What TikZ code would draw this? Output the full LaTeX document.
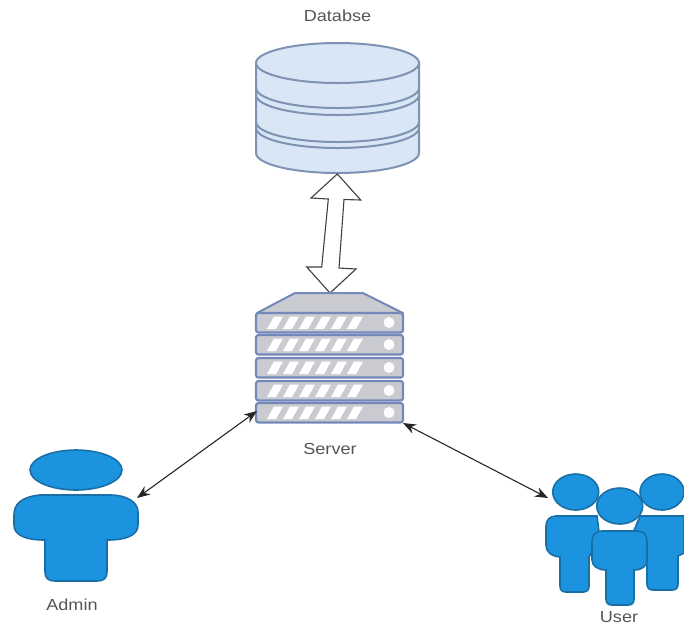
\documentclass[tikz,border=0pt]{standalone}
\usepackage{fontspec}
\setmainfont{Liberation Sans}
\usetikzlibrary{arrows.meta}
\definecolor{dbfill}{HTML}{D8E6F6}
\definecolor{dbline}{HTML}{7E93B2}
\definecolor{srvfill}{HTML}{C9CBD0}
\definecolor{srvline}{HTML}{7488BA}
\definecolor{pfill}{HTML}{1C93DE}
\definecolor{pline}{HTML}{1A6FA6}
\definecolor{txt}{HTML}{555555}
\tikzset{
  dbpart/.style={fill=dbfill,draw=dbline,line width=2pt},
  srvrow/.style={fill=srvfill,draw=srvline,line width=2.2pt,rounded corners=2.5pt},
  person/.style={fill=pfill,draw=pline,line width=1.6pt},
  label/.style={text=txt,font=\fontsize{16}{18}\selectfont,inner sep=0pt,xscale=1.13,transform shape},
  link/.style={black!85,line width=1.1pt,{Stealth[length=13pt,width=10pt]}-{Stealth[length=13pt,width=10pt]}},
  bigarrow/.style={fill=white,draw=black!75,line width=1.1pt,line join=miter}
}
\newcommand{\srvstripes}[1]{%
  \foreach \sx in {267,283,299,315,331,347}{
    \fill[white] (\sx,#1+16) -- (\sx+9,#1+16) -- (\sx+16,#1+3.5) -- (\sx+7,#1+3.5) -- cycle;
  }
  \fill[white,opacity=.95] (389,#1+9.5) circle (5.5);
}
\begin{document}
\begin{tikzpicture}[x=1pt,y=-1pt]
\useasboundingbox (0,0) rectangle (684,625);
% database
\path[dbpart] (256,63) -- (256,153) arc[start angle=180,end angle=0,x radius=81.5,y radius=20] -- (419,63) -- cycle;
\draw[dbpart,fill=none] (256,88) arc[start angle=180,end angle=0,x radius=81.5,y radius=20];
\draw[dbpart,fill=none] (256,95) arc[start angle=180,end angle=0,x radius=81.5,y radius=20];
\draw[dbpart,fill=none] (256,122) arc[start angle=180,end angle=0,x radius=81.5,y radius=20];
\draw[dbpart,fill=none] (256,128) arc[start angle=180,end angle=0,x radius=81.5,y radius=20];
\draw[dbpart] (337.5,63) ellipse[x radius=81.5,y radius=20];
\node[label] (dblabel) at (337.5,16) {Databse};
% double arrow
\draw[bigarrow] (337.3,174) -- (360.7,200) -- (344,199.5) -- (339,268) -- (356,269) -- (330,293)
  -- (306.7,267) -- (321.7,267) -- (328.3,199) -- (311,198) -- cycle;
% server
\draw[fill=srvfill,draw=srvline,line width=2pt,line join=round] (295,293) -- (363,293) -- (403,313) -- (257,313) -- cycle;
\foreach \ry in {313,335,358,381,403}{
  \draw[srvrow] (256,\ry) rectangle (403,\ry+19.5);
  \srvstripes{\ry}
}
\node[label] (srvlabel) at (330,449) {Server};
% admin
\draw[person] (76,470) ellipse[x radius=46,y radius=20];
\draw[person] (40,495) .. controls (20,497) and (14,505) .. (14,515)
  -- (14,525) .. controls (14,535) and (25,540) .. (45,540)
  -- (45,572) .. controls (45,578) and (48,581) .. (55,581)
  -- (97,581) .. controls (104,581) and (107,578) .. (107,572)
  -- (107,540) .. controls (127,540) and (138,535) .. (138,525)
  -- (138,512) .. controls (138,503) and (128,495) .. (110,495) -- cycle;
\node[label] (adminlabel) at (72,605) {Admin};
% user: left, right, centre
\draw[person] (556,516) -- (597,516) -- (600,540) -- (589,557) -- (589,586)
  .. controls (589,590) and (587,592) .. (583,592) -- (566,592)
  .. controls (562,592) and (560,590) .. (560,586) -- (560,557)
  .. controls (551,556) and (546,552) .. (546,545) -- (546,526)
  .. controls (546,520) and (550,516) .. (556,516) -- cycle;
\draw[person] (640,516) -- (684,516) -- (684,553) -- (678,556) -- (678,584)
  .. controls (678,588) and (676,590) .. (672,590) -- (653,590)
  .. controls (649,590) and (647,588) .. (647,584) -- (647,560) -- (630,540) -- cycle;
\draw[person] (575.7,492) ellipse[x radius=23,y radius=18];
\draw[person] (662,492) ellipse[x radius=22,y radius=18];
\draw[person] (602,531) -- (637,531) .. controls (644,531) and (647,535) .. (647,541)
  -- (647,560) .. controls (647,566) and (642,570) .. (634,570) -- (634,599)
  .. controls (634,603) and (632,605) .. (628,605) -- (612,605)
  .. controls (608,605) and (606,603) .. (606,599) -- (606,570)
  .. controls (598,570) and (592,566) .. (592,560) -- (592,541)
  .. controls (592,535) and (596,531) .. (602,531) -- cycle;
\draw[person] (619.7,506) ellipse[x radius=23,y radius=18];
\node[label] (userlabel) at (619,617) {User};
% connectors
\coordinate (srvL) at (257,411);
\coordinate (srvR) at (403,423);
\coordinate (adminC) at (137,498);
\coordinate (userC) at (548,498);
\draw[link] (adminC) -- (srvL);
\draw[link] (srvR) -- (userC);
\end{tikzpicture}
\end{document}
